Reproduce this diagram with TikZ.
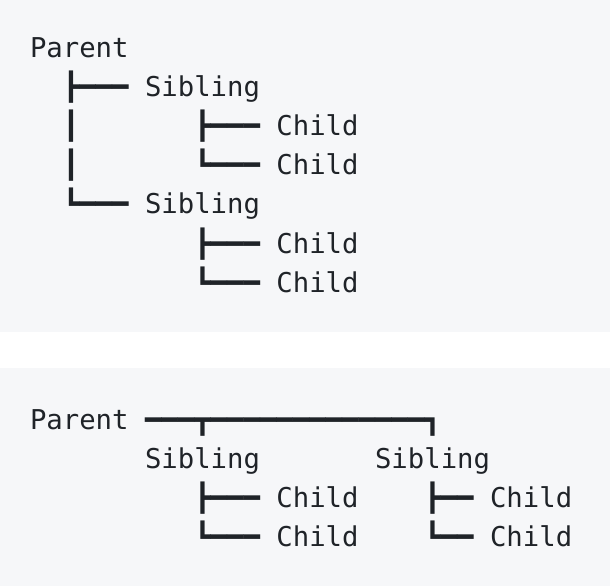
\documentclass[tikz,border=0pt]{standalone}
\usepackage{fontspec}
\newfontfamily\treemono{DejaVu Sans Mono}
\definecolor{panel}{HTML}{F6F7F9}
\definecolor{ink}{HTML}{1F2328}
\begin{document}
\begin{tikzpicture}[x=1pt,y=-1pt,
  t/.style={anchor=base west, inner sep=0pt, outer sep=0pt, text=ink,
            font=\treemono\fontsize{27.29}{32}\selectfont}]
\def\W{16.43}
\def\X{30}
\useasboundingbox (0,0) rectangle (610,586);
\fill[panel] (0,0) rectangle (610,332);
\fill[panel] (0,368) rectangle (610,586);
% ---- top panel: vertical tree ----
\node[t] (p1)  at ({\X+0*\W},57)    {Parent};
\node[t] (c11) at ({\X+2*\W},96.2)  {┣━━━};
\node[t] (s11) at ({\X+7*\W},96.2)  {Sibling};
\node[t] (v12) at ({\X+2*\W},135.4) {┃};
\node[t] (c12) at ({\X+10*\W},135.4) {┣━━━};
\node[t] (k12) at ({\X+15*\W},135.4) {Child};
\node[t] (v13) at ({\X+2*\W},174.6) {┃};
\node[t] (c13) at ({\X+10*\W},174.6) {┗━━━};
\node[t] (k13) at ({\X+15*\W},174.6) {Child};
\node[t] (c14) at ({\X+2*\W},213.8) {┗━━━};
\node[t] (s14) at ({\X+7*\W},213.8) {Sibling};
\node[t] (c15) at ({\X+10*\W},253) {┣━━━};
\node[t] (k15) at ({\X+15*\W},253) {Child};
\node[t] (c16) at ({\X+10*\W},292.2) {┗━━━};
\node[t] (k16) at ({\X+15*\W},292.2) {Child};
% ---- bottom panel: horizontal tree ----
\node[t] (p2)  at ({\X+0*\W},429) {Parent};
\node[t] (h2)  at ({\X+7*\W},429) {━━━┳━━━━━━━━━━━━━┓};
\node[t] (s21) at ({\X+7*\W},468.2) {Sibling};
\node[t] (s22) at ({\X+21*\W},468.2) {Sibling};
\node[t] (c21) at ({\X+10*\W},507.4) {┣━━━};
\node[t] (k21) at ({\X+15*\W},507.4) {Child};
\node[t] (c22) at ({\X+24*\W},507.4) {┣━━};
\node[t] (k22) at ({\X+28*\W},507.4) {Child};
\node[t] (c23) at ({\X+10*\W},546.6) {┗━━━};
\node[t] (k23) at ({\X+15*\W},546.6) {Child};
\node[t] (c24) at ({\X+24*\W},546.6) {┗━━};
\node[t] (k24) at ({\X+28*\W},546.6) {Child};
\end{tikzpicture}
\end{document}
